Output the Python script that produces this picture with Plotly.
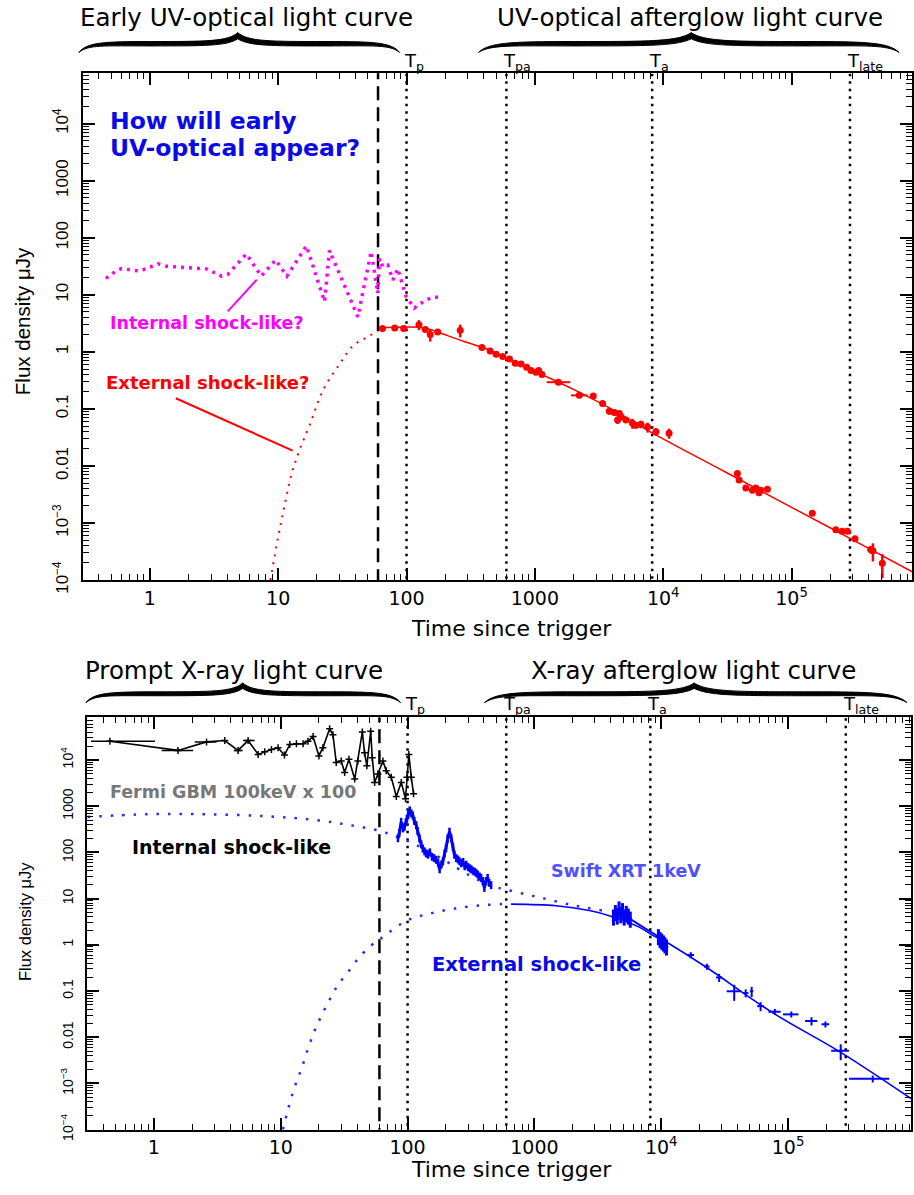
import math
import plotly.graph_objects as go

# full page figure; the body margin is removed after plotting
W, H = 914, 1195
FONT = "DejaVu Sans"
FONT_N = "Liberation Sans"

# ---------------- TOP PANEL: UV-optical ----------------
# magenta "internal shock-like?" dotted curve
int_opt_t = [0.455, 0.534, 0.60, 0.836, 1.16, 1.35, 2.76, 3.61, 4.07, 5.65, 7.39, 9.55, 11.7,
             16.6, 23.0, 25.1, 41.8, 53.0, 59.8, 61.6, 65.4, 71.6, 78.2, 85.5, 90.8, 99.5,
             115, 126, 142, 165, 186]
int_opt_f = [19.4, 25.3, 28.8, 26.0, 35.0, 31.7, 28.5, 21.3, 23.0, 52.0, 21.3, 41.0, 21.3,
             72.0, 7.6, 60.0, 4.1, 57.5, 10.6, 43.0, 30.8, 33.0, 18.2, 28.8, 18.2, 9.3,
             5.85, 6.7, 8.2, 9.1, 9.1]

# red dotted rise (external shock-like?)
ext_opt_rise_t = [8.7, 10.0, 11.2, 12.9, 14.7, 17.6, 22.3, 30.1, 38.2, 48.5, 59.8]
ext_opt_rise_f = [1e-4, 5.7e-4, 2.0e-3, 8.1e-3, 0.0193, 0.052, 0.21, 0.61, 1.27, 1.77, 2.31]

# red solid model
opt_model_t = [63, 80, 110, 150, 181, 274, 393, 562, 800, 1020, 2000, 4000, 8260, 3e4, 1e5,
               2.85e5, 8.7e5]
opt_model_f = [2.64, 2.7, 2.72, 2.5, 2.16, 1.55, 1.19, 0.85, 0.59, 0.45, 0.22, 0.098, 0.0376,
               0.008, 1.88e-3, 5.4e-4, 1.4e-4]

# red data points
opt_t = [65, 81, 95, 125, 140, 153, 175, 262, 387, 448,
         499, 562, 634, 703, 781, 863, 933, 1020, 1070, 1136,
         1524, 2220, 2850, 3370, 3800, 4160, 4410, 4550, 4690, 5130,
         5760, 6120, 6700, 7550, 8770, 11100, 37800, 39000, 44000, 49500,
         52600, 55800, 57500, 64800, 145000, 221000, 248000, 272000, 312000, 413000,
         430000, 509000]
opt_f = [2.57, 2.63, 2.57, 3.0, 2.47, 2.02, 2.24, 2.4, 1.19, 1.04,
         0.91, 0.83, 0.75, 0.63, 0.61, 0.54, 0.47, 0.44, 0.47, 0.40,
         0.294, 0.173, 0.168, 0.124, 0.091, 0.087, 0.064, 0.083, 0.073, 0.064,
         0.056, 0.052, 0.054, 0.048, 0.040, 0.0376, 7.4e-3, 5.7e-3, 4.1e-3, 3.77e-3,
         4.1e-3, 3.4e-3, 3.77e-3, 3.9e-3, 1.48e-3, 7.6e-4, 7.2e-4, 7.2e-4, 5.3e-4, 3.44e-4,
         3.27e-4, 1.97e-4]
opt_ferr_rel = [0.08, 0.08, 0.08, 0.2, 0.1, 0.25, 0.1, 0.25, 0.1, 0.08,
                0.08, 0.08, 0.1, 0.1, 0.08, 0.1, 0.1, 0.1, 0.1, 0.1,
                0.06, 0.06, 0.1, 0.12, 0.12, 0.12, 0.15, 0.12, 0.15, 0.1,
                0.2, 0.12, 0.15, 0.2, 0.15, 0.2, 0.1, 0.1, 0.1, 0.1,
                0.12, 0.12, 0.12, 0.1, 0.1, 0.1, 0.1, 0.1, 0.1, 0.15,
                0.35, 0.45]
opt_terr_lo = [0] * 20 + [288, 306] + [0] * 30
opt_terr_hi = [0] * 20 + [367, 363] + [0] * 30

# ---------------- BOTTOM PANEL: X-ray ----------------
gbm_t = [0.45, 1.55, 2.6, 3.62, 4.61, 5.53, 6.64, 7.48, 8.45, 9.53, 10.7, 11.8, 13.3, 15.0,
         16.4, 18.0, 20.0, 21.5, 24.3, 25.8, 27.4, 30.0, 31.9, 34.5, 38.3, 40.6, 44.0, 45.8,
         47.8, 51.2, 52.7, 55.0, 58.4, 63.9, 67.9, 74.4, 81.5, 89.2, 96.4, 98.8, 102.4, 107,
         111.5]
gbm_f = [25500, 16100, 24600, 26300, 16100, 26300, 13200, 15100, 16900, 18300, 12800, 21600,
         22400, 22400, 25500, 32000, 12200, 18300, 47500, 35300, 8800, 9500, 5370, 10300, 3860,
         9500, 40300, 14300, 7450, 41700, 11200, 3250, 4940, 9500, 5820, 4200, 1620, 3270, 1450,
         4200, 13200, 4200, 1850]
gbm_terr_lo = [0.13, 0.40, 0.5, 0, 0.35, 0.48] + [0] * 37
gbm_terr_hi = [0.57, 0.49, 0.52, 0, 0.40, 0.71] + [0] * 37

xint_model_t = [0.3, 0.88, 2.6, 7.7, 19.1, 34.9, 60, 81.5, 117, 200, 300, 456, 617, 1094,
                2004, 3450]
xint_model_f = [585, 668, 668, 605, 498, 390, 294, 219, 145, 65, 33, 19, 15.3, 10.6, 7.2, 5.5]

xext_rise_t = [10.4, 11.4, 12.9, 14.6, 16.4, 18.5, 20.9, 24.3, 28.3, 34.9, 41.9, 50.2, 58.4,
               64, 97.7, 158, 257, 400, 563, 655]
xext_rise_f = [1e-4, 2.7e-4, 8.5e-4, 2.1e-3, 5.6e-3, 0.0138, 0.0288, 0.065, 0.136, 0.285,
               0.55, 0.9, 1.25, 1.48, 3.3, 4.9, 6.3, 7.2, 7.6, 7.6]

xext_model_t = [655, 1480, 2710, 3890, 6710, 8550, 10900, 22500, 75300, 260000, 953000]
xext_model_f = [7.6, 7.0, 5.5, 4.26, 2.41, 1.6, 1.15, 0.33, 0.034, 4.7e-3, 4.5e-4]

xrt_early_t = [84, 86, 89, 92, 94.6, 97, 98.8, 101, 104, 107, 110, 113, 117, 120, 124, 128,
               132, 136, 140, 145, 150, 156, 162, 168, 174, 179, 185, 190, 196, 201, 207, 214,
               221, 228, 234, 242, 250, 257, 265, 274, 282, 290, 300, 310, 318, 328, 338, 347,
               358, 370, 380, 392, 403, 415, 428, 440, 456]
xrt_early_f = [202, 260, 457, 330, 357, 450, 537, 640, 813, 700, 630, 480, 388, 290, 202, 150,
               120, 105, 95, 89, 100, 80, 75, 69, 60, 43, 55, 64, 95, 123, 200, 280,
               202, 130, 89, 75, 70, 64, 58, 62, 50, 54, 48, 45, 43, 40, 38, 36,
               33, 30, 28, 24, 17, 24, 28, 22, 19.5]

xrt_clump_t = [4200, 4350, 4500, 4650, 4800, 4950, 5100, 5300, 5500, 5700,
               9500, 9800, 10100, 10400, 10700, 11000]
xrt_clump_f = [4.0, 5.0, 4.2, 6.0, 4.5, 5.5, 4.0, 4.8, 4.2, 3.6,
               1.5, 1.3, 1.2, 1.1, 1.0, 0.9]

xrt_late_t = [17100, 22900, 28600, 37600, 46300, 51600, 60700, 78700, 106000, 153000,
              197000, 260000, 465000]
xrt_late_f = [0.6, 0.337, 0.196, 0.0986, 0.0906, 0.0986, 0.047, 0.0356, 0.0312, 0.0225,
              0.019, 5.1e-3, 1.26e-3]
xrt_late_trel = [0.06, 0.05, 0.055, 0.128, 0.05, 0.03, 0.06, 0.11, 0.14, 0.11, 0.07, 0.16, 0.35]
xrt_late_frel = [0.15, 0.15, 0.2, 0.38, 0.2, 0.25, 0.22, 0.15, 0.15, 0.2, 0.15, 0.38, 0.17]

# epochs
t_dash = 60
t_epochs = [100, 600, 8200, 2.85e5]
epoch_labels = ["T<sub>p</sub>", "T<sub>pa</sub>", "T<sub>a</sub>", "T<sub>late</sub>"]

x_tickvals = [1, 10, 100, 1000, 1e4, 1e5]
x_ticktext = ["1", "10", "100", "1000", "10<sup>4</sup>", "10<sup>5</sup>"]
y_tickvals = [1e-4, 1e-3, 0.01, 0.1, 1, 10, 100, 1000, 1e4]
y_ticktext = ["10<sup>\u22124</sup>", "10<sup>\u22123</sup>", "0.01", "0.1", "1", "10", "100",
              "1000", "10<sup>4</sup>"]


def px(X):
    return X / W


def py(Y):
    return 1 - Y / H


fig = go.Figure()

# epoch lines in both panels
for xa, ya in (("x", "y"), ("x2", "y2")):
    fig.add_trace(go.Scatter(x=[t_dash, t_dash], y=[1e-7, 1e8], mode="lines",
                             line=dict(color="black", width=2.5, dash="14px,7px"),
                             xaxis=xa, yaxis=ya, hoverinfo="skip"))
    for t in t_epochs:
        fig.add_trace(go.Scatter(x=[t, t], y=[1e-7, 1e8], mode="lines",
                                 line=dict(color="black", width=2.5, dash="2.5px,5px"),
                                 xaxis=xa, yaxis=ya, hoverinfo="skip"))

# top panel traces
fig.add_trace(go.Scatter(x=int_opt_t, y=int_opt_f, mode="lines",
                         line=dict(color="#ff00ff", width=3.5, dash="3px,5px"),
                         xaxis="x", yaxis="y"))
fig.add_trace(go.Scatter(x=ext_opt_rise_t, y=ext_opt_rise_f, mode="lines", line_shape="spline",
                         line=dict(color="#ff0000", width=2, dash="2px,6px"),
                         xaxis="x", yaxis="y"))
fig.add_trace(go.Scatter(x=opt_model_t, y=opt_model_f, mode="lines", line_shape="spline",
                         line=dict(color="#ff0000", width=1.5), xaxis="x", yaxis="y"))
fig.add_trace(go.Scatter(
    x=opt_t, y=opt_f, mode="markers",
    marker=dict(color="#ff0000", size=7),
    error_y=dict(type="data", array=[f * r for f, r in zip(opt_f, opt_ferr_rel)],
                 color="#ff0000", thickness=2.5, width=0),
    error_x=dict(type="data", array=opt_terr_hi, arrayminus=opt_terr_lo,
                 color="#ff0000", thickness=2, width=0),
    xaxis="x", yaxis="y"))

# bottom panel traces
fig.add_trace(go.Scatter(x=xint_model_t, y=xint_model_f, mode="lines", line_shape="spline",
                         line=dict(color="#2a2aff", width=2.5, dash="2.5px,9px"),
                         xaxis="x2", yaxis="y2"))
fig.add_trace(go.Scatter(x=xext_rise_t, y=xext_rise_f, mode="lines", line_shape="spline",
                         line=dict(color="#2a2aff", width=2.5, dash="2.5px,9px"),
                         xaxis="x2", yaxis="y2"))
fig.add_trace(go.Scatter(x=xext_model_t, y=xext_model_f, mode="lines", line_shape="spline",
                         line=dict(color="#0000ff", width=1.6), xaxis="x2", yaxis="y2"))
fig.add_trace(go.Scatter(
    x=gbm_t, y=gbm_f, mode="lines+markers",
    line=dict(color="black", width=1.6),
    marker=dict(symbol="cross-thin", size=5, color="black", line=dict(color="black", width=1.5)),
    error_x=dict(type="data", array=gbm_terr_hi, arrayminus=gbm_terr_lo,
                 color="black", thickness=1.5, width=0),
    xaxis="x2", yaxis="y2"))
fig.add_trace(go.Scatter(
    x=xrt_early_t, y=xrt_early_f, mode="lines",
    line=dict(color="#0000ff", width=3),
    error_y=dict(type="data", array=[f * 0.22 for f in xrt_early_f],
                 arrayminus=[f * 0.18 for f in xrt_early_f],
                 color="#0000ff", thickness=2.5, width=0),
    xaxis="x2", yaxis="y2"))
fig.add_trace(go.Scatter(
    x=xrt_clump_t, y=xrt_clump_f, mode="lines+markers",
    line=dict(color="#0000ff", width=2), marker=dict(color="#0000ff", size=4),
    error_y=dict(type="data", array=[f * 0.45 for f in xrt_clump_f],
                 arrayminus=[f * 0.35 for f in xrt_clump_f],
                 color="#0000ff", thickness=3, width=0),
    xaxis="x2", yaxis="y2"))
fig.add_trace(go.Scatter(
    x=xrt_late_t, y=xrt_late_f, mode="markers",
    marker=dict(color="#0000ff", size=2),
    error_x=dict(type="data", array=[t * r for t, r in zip(xrt_late_t, xrt_late_trel)],
                 color="#0000ff", thickness=2, width=0),
    error_y=dict(type="data", array=[f * r for f, r in zip(xrt_late_f, xrt_late_frel)],
                 color="#0000ff", thickness=2, width=0),
    xaxis="x2", yaxis="y2"))

# ---------------- axes ----------------
minor_x = [m * 10 ** e for e in range(-1, 7) for m in range(2, 10)]
minor_y = [m * 10 ** e for e in range(-5, 5) for m in range(2, 10)]
common = dict(type="log", showline=True, linecolor="black", linewidth=2, mirror="allticks",
              ticks="inside", ticklen=12, tickwidth=1.5, tickcolor="black", showgrid=False,
              zeroline=False)
minor_common = dict(ticks="inside", ticklen=6, tickwidth=1.2, tickcolor="black", showgrid=False)


def xaxis_def(dom, rng, anchor):
    return dict(**common, domain=dom, range=rng, anchor=anchor, tickmode="array",
                tickvals=x_tickvals, ticktext=x_ticktext,
                tickfont=dict(family=FONT, size=19, color="black"),
                minor=dict(**minor_common, tickvals=minor_x))


def yaxis_def(dom, rng, anchor, fsize):
    return dict(**common, domain=dom, range=rng, anchor=anchor, tickmode="array",
                tickvals=y_tickvals, ticktext=y_ticktext, tickangle=-90,
                ticklabelstandoff=6,
                tickfont=dict(family=FONT_N, size=fsize, color="black"),
                minor=dict(**minor_common, tickvals=minor_y))


fig.update_layout(
    width=W, height=H, margin=dict(l=0, r=0, t=0, b=0),
    paper_bgcolor="white", plot_bgcolor="white", showlegend=False,
    xaxis=xaxis_def([px(83), px(913)], [-0.521, 5.938], "y"),
    yaxis=yaxis_def([py(587), py(74)], [-4, 4.885], "x", 17),
    xaxis2=xaxis_def([px(87), px(912)], [-0.528, 5.969], "y2"),
    yaxis2=yaxis_def([py(1143), py(726)], [-4, 4.919], "x2", 14),
)

# ---------------- annotations ----------------
ann = []


def text(X, Y, s, size, color="black", family=FONT, angle=0, xanchor="center", yanchor="middle"):
    ann.append(dict(x=px(X), y=py(Y), xref="paper", yref="paper", text=s, showarrow=False,
                    font=dict(family=family, size=size, color=color), textangle=angle,
                    xanchor=xanchor, yanchor=yanchor))


# headers
text(247, 18, "Early UV-optical light curve", 24.5)
text(691, 18, "UV-optical afterglow light curve", 24.5)
text(234, 678, "Prompt X-ray light curve", 24.5)
text(694, 678, "X-ray afterglow light curve", 24.5)

# epoch labels
for xa, Ybot in (("x", 77), ("x2", 728)):
    for t, lab in zip(t_epochs, epoch_labels):
        ann.append(dict(x=math.log10(t), y=py(Ybot), xref=xa, yref="paper", text=lab,
                        showarrow=False, xanchor="left", yanchor="bottom", xshift=-5,
                        font=dict(family=FONT, size=18, color="black")))

# axis titles
text(512, 636, "Time since trigger", 22)
text(512, 1183, "Time since trigger", 22)
text(22, 325, "Flux density \u03bcJy", 20.5, family=FONT_N, angle=-90)
text(25, 932, "Flux density \u03bcJy", 16.5, family=FONT_N, angle=-90)

# in-plot labels
text(108, 122, "<b>How will early</b>", 23.5, color="#0a0ae6", xanchor="left")
text(108, 150, "<b>UV-optical appear?</b>", 23.5, color="#0a0ae6", xanchor="left")
text(207, 327, "<b>Internal shock-like?</b>", 17.5, color="#ff00ff")
text(208, 387, "<b>External shock-like?</b>", 18, color="#ff0000")
text(233, 801, "<b>Fermi GBM 100keV x 100</b>", 17.5, color="#777777")
text(232, 857, "<b>Internal shock-like</b>", 19, color="black")
text(627, 881, "<b>Swift XRT 1keV</b>", 17.5, color="#5050ff")
text(537, 976, "<b>External shock-like</b>", 19.5, color="#0a0ae6")

fig.update_layout(annotations=ann)

# ---------------- shapes: pointer lines and braces ----------------
shapes = []
shapes.append(dict(type="line", xref="paper", yref="paper", x0=px(257), y0=py(283),
                   x1=px(228), y1=py(315), line=dict(color="#ff00ff", width=2)))
shapes.append(dict(type="line", xref="paper", yref="paper", x0=px(176), y0=py(403),
                   x1=px(293), y1=py(456), line=dict(color="#ff0000", width=2)))


def brace(x0, x1, xm, ytop, ybot, th=4.5):
    ym = ytop + 0.45 * (ybot - ytop)
    L = xm - x0
    R = x1 - xm
    segs = [
        ("M", [(x0, ybot)]),
        ("C", [(x0 + 0.05 * L, ym + 1), (x0 + 0.15 * L, ym), (x0 + 0.45 * L, ym)]),
        ("C", [(xm - 0.2 * L, ym), (xm - 0.06 * L, ym), (xm, ytop)]),
        ("C", [(xm + 0.06 * R, ym), (xm + 0.2 * R, ym), (xm + 0.55 * R, ym)]),
        ("C", [(x1 - 0.15 * R, ym), (x1 - 0.05 * R, ym + 1), (x1, ybot)]),
        ("C", [(x1 - 0.06 * R, ym + th * 0.7), (x1 - 0.15 * R, ym + th), (xm + 0.55 * R, ym + th)]),
        ("C", [(xm + 0.2 * R, ym + th), (xm + 0.07 * R, ym + th), (xm, ytop + th * 1.4)]),
        ("C", [(xm - 0.07 * L, ym + th), (xm - 0.2 * L, ym + th), (x0 + 0.45 * L, ym + th)]),
        ("C", [(x0 + 0.15 * L, ym + th), (x0 + 0.06 * L, ym + th * 0.7), (x0, ybot)]),
    ]
    path = " ".join(c + " " + " ".join(f"{px(X):.5f},{py(Y):.5f}" for X, Y in p) for c, p in segs)
    return dict(type="path", xref="paper", yref="paper", path=path + " Z",
                fillcolor="black", line=dict(color="black", width=1))


shapes.append(brace(79, 400, 238, 33, 53))
shapes.append(brace(479, 900, 692, 33, 53))
shapes.append(brace(86, 401, 243, 691, 711, th=4))
shapes.append(brace(485, 908, 695, 691, 711, th=4))
fig.update_layout(shapes=shapes)

fig.write_html("out.html", config={"displayModeBar": False},
               post_script="document.body.style.margin='0px';")
